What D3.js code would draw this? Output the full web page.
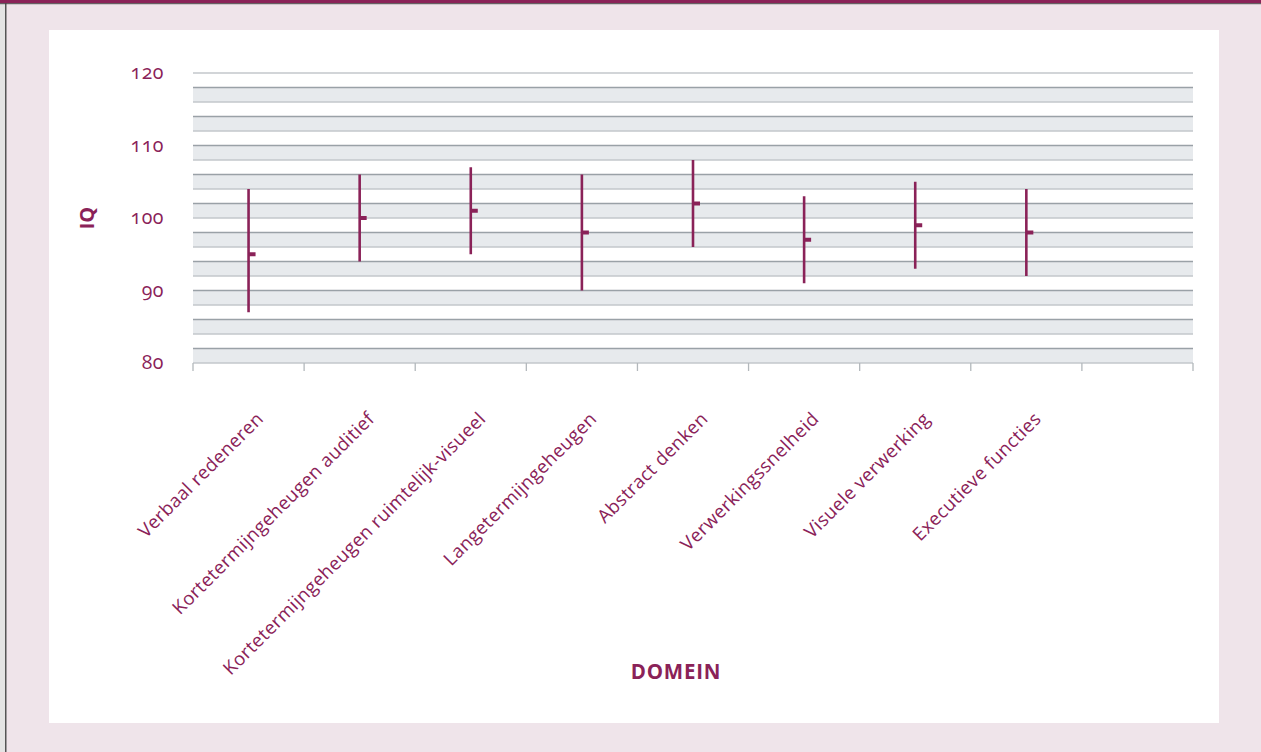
<!DOCTYPE html>
<html>
<head>
<meta charset="utf-8">
<script src="https://cdn.jsdelivr.net/npm/d3@7"></script>
<style>
  html, body { margin: 0; padding: 0; background: #efe4ea; }
  svg { display: block; font-family: "Open Sans", sans-serif; }
  .num { font-variant-numeric: oldstyle-nums; }
</style>
</head>
<body>
<div id="content"></div>
<script>
var width = 1261;
var height = 752;

// data
var domains = ['Verbaal redeneren',
               'Kortetermijngeheugen auditief',
               'Kortetermijngeheugen ruimtelijk-visueel',
               'Langetermijngeheugen',
               'Abstract denken',
               'Verwerkingssnelheid',
               'Visuele verwerking',
               'Executieve functies'];
var high  = [104, 106, 107, 106, 108, 103, 105, 104];
var low   = [87, 94, 95, 90, 96, 91, 93, 92];
var score = [95, 100, 101, 98, 102, 97, 99, 98];
var yTicks = [80, 90, 100, 110, 120];

var purple = '#8a2258';

var svg = d3.select('div#content').append('svg')
    .attr('width', width)
    .attr('height', height);

// page frame
svg.append('rect').attr('x', 0).attr('y', 0).attr('width', width).attr('height', height).attr('fill', '#efe4ea');
svg.append('rect').attr('x', 0).attr('y', 0).attr('width', 5).attr('height', height).attr('fill', '#e4e4e4');
svg.append('rect').attr('x', 5).attr('y', 0).attr('width', 1.5).attr('height', height).attr('fill', '#555');
svg.append('rect').attr('x', 0).attr('y', 0).attr('width', width).attr('height', 3.2).attr('fill', purple);
svg.append('rect').attr('x', 0).attr('y', 3.2).attr('width', width).attr('height', 1).attr('fill', '#4a4a4a');
svg.append('rect').attr('x', 49).attr('y', 30).attr('width', 1170).attr('height', 693).attr('fill', '#fff');

var x = d3.scaleBand()
    .domain(domains.concat(['']))
    .range([193, 1193]);

var y = d3.scaleLinear()
    .domain([80, 120])
    .range([363, 73]);

// alternating bands
var steps = d3.range(80, 120, 2);
var g = svg.append('g');
g.selectAll('rect.band')
    .data(steps.filter(function(d, i){ return i % 2 === 0; }))
    .enter().append('rect')
        .attr('class', 'band')
        .attr('x', 193)
        .attr('width', 1000)
        .attr('y', function(d){ return y(d + 2); })
        .attr('height', function(d){ return y(d) - y(d + 2); })
        .attr('fill', '#e7eaed');

// grid lines: dark on top of a grey band, light below
g.selectAll('line.grid')
    .data(d3.range(80, 121, 2))
    .enter().append('line')
        .attr('class', 'grid')
        .attr('x1', 193)
        .attr('x2', 1193)
        .attr('y1', function(d){ return y(d); })
        .attr('y2', function(d){ return y(d); })
        .attr('stroke', function(d){ return (d - 80) % 4 === 2 ? '#9aa1a7' : '#c3c7cb'; })
        .attr('stroke-width', 1.5);

// x axis ticks
var ticks = x.domain().map(function(d){ return x(d); }).concat([1193]);
g.selectAll('line.tick')
    .data(ticks)
    .enter().append('line')
        .attr('x1', function(d){ return d; })
        .attr('x2', function(d){ return d; })
        .attr('y1', y(80))
        .attr('y2', y(80) + 8)
        .attr('stroke', '#b3b8bc')
        .attr('stroke-width', 1.3);

// y tick labels
svg.selectAll('text.ytick')
    .data(yTicks)
    .enter().append('text')
        .attr('class', 'ytick num')
        .attr('x', 164)
        .attr('y', function(d){ return y(d) + 6; })
        .attr('text-anchor', 'end')
        .attr('fill', purple)
        .attr('font-size', 19.5)
        .attr('letter-spacing', 0.5)
        .text(function(d){ return d; });

// category labels
svg.selectAll('text.xlab')
    .data(domains)
    .enter().append('text')
        .attr('class', 'xlab')
        .attr('transform', function(d){
            return 'translate(' + (x(d) + x.bandwidth() / 2 + 16) + ',' + 420 + ') rotate(-45)';
        })
        .attr('text-anchor', 'end')
        .attr('fill', purple)
        .attr('font-size', 18.5)
        .attr('letter-spacing', 0.4)
        .text(function(d){ return d; });

// high-low lines
var idx = d3.range(domains.length);
svg.selectAll('line.hl')
    .data(idx)
    .enter().append('line')
        .attr('x1', function(i){ return x(domains[i]) + x.bandwidth() / 2; })
        .attr('x2', function(i){ return x(domains[i]) + x.bandwidth() / 2; })
        .attr('y1', function(i){ return y(high[i]); })
        .attr('y2', function(i){ return y(low[i]); })
        .attr('stroke', purple)
        .attr('stroke-width', 2.6);

// score markers
svg.selectAll('rect.mark')
    .data(idx)
    .enter().append('rect')
        .attr('x', function(i){ return x(domains[i]) + x.bandwidth() / 2; })
        .attr('y', function(i){ return y(score[i]) - 2; })
        .attr('width', 7)
        .attr('height', 4)
        .attr('fill', purple);

// axis titles
svg.append('text')
    .attr('transform', 'translate(94,218) rotate(-90)')
    .attr('text-anchor', 'middle')
    .attr('fill', purple)
    .attr('font-size', 20)
    .attr('font-weight', 'bold')
    .text('IQ');

svg.append('text')
    .attr('x', 676)
    .attr('y', 679)
    .attr('text-anchor', 'middle')
    .attr('fill', purple)
    .attr('font-size', 20.5)
    .attr('font-weight', 'bold')
    .attr('letter-spacing', 0.8)
    .text('DOMEIN');
</script>
</body>
</html>
